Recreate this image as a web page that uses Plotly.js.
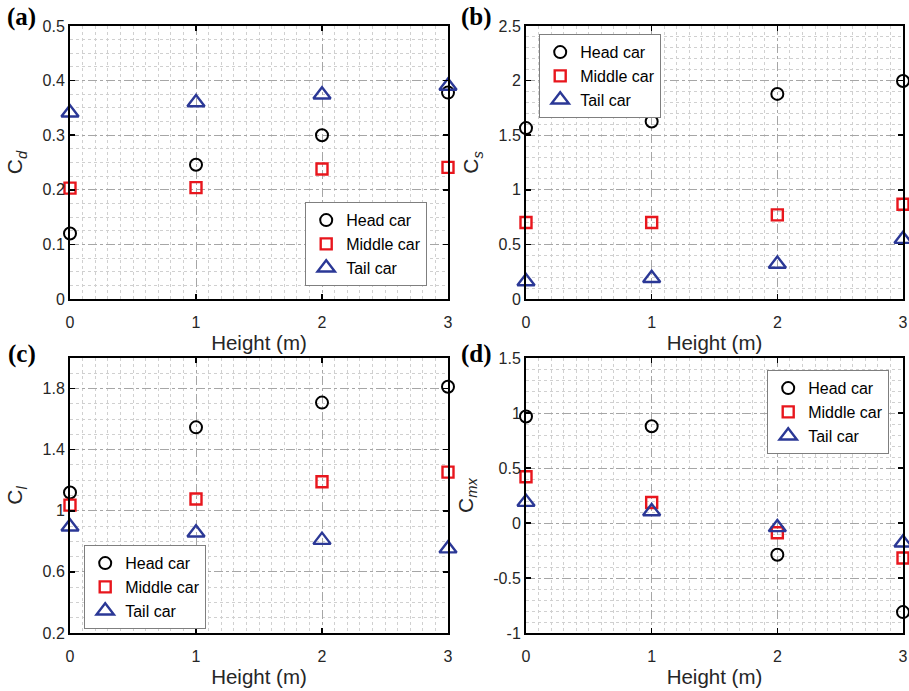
<!DOCTYPE html>
<html>
<head>
<meta charset="utf-8">
<script src="https://cdn.plot.ly/plotly-3.0.1.min.js"></script>
<style>html,body{margin:0;padding:0;background:#fff;}#chart{width:909px;height:691px;}</style>
</head>
<body>
<div id="chart"></div>
<script>
// ---- Data ----
const heights = [0, 1, 2, 3];
const seriesNames = ['Head car', 'Middle car', 'Tail car'];

// (a) drag coefficient Cd
const cdHead   = [0.120, 0.246, 0.300, 0.378];
const cdMiddle = [0.203, 0.204, 0.238, 0.241];
const cdTail   = [0.341, 0.360, 0.374, 0.390];

// (b) side force coefficient Cs
const csHead   = [1.565, 1.625, 1.878, 1.997];
const csMiddle = [0.700, 0.700, 0.770, 0.868];
const csTail   = [0.160, 0.190, 0.320, 0.548];

// (c) lift coefficient Cl
const clHead   = [1.120, 1.546, 1.708, 1.812];
const clMiddle = [1.037, 1.077, 1.190, 1.253];
const clTail   = [0.895, 0.856, 0.808, 0.752];

// (d) rolling moment coefficient Cmx
const cmxHead   = [0.968, 0.880, -0.289, -0.810];
const cmxMiddle = [0.420, 0.187, -0.089, -0.318];
const cmxTail   = [0.190, 0.105, -0.040, -0.180];

// tick labels
const xTickVals = [0, 1, 2, 3];
const xTickText = ['0', '1', '2', '3'];
const aTickVals = [0, 0.1, 0.2, 0.3, 0.4, 0.5];
const aTickText = ['0', '0.1', '0.2', '0.3', '0.4', '0.5'];
const bTickVals = [0, 0.5, 1, 1.5, 2, 2.5];
const bTickText = ['0', '0.5', '1', '1.5', '2', '2.5'];
const cTickVals = [0.2, 0.6, 1, 1.4, 1.8];
const cTickText = ['0.2', '0.6', '1', '1.4', '1.8'];
const dTickVals = [-1, -0.5, 0, 0.5, 1, 1.5];
const dTickText = ['-1', '-0.5', '0', '0.5', '1', '1.5'];

const panelLabels = ['(a)', '(b)', '(c)', '(d)'];
const yTitles = ['C<sub><i>d</i></sub>', 'C<sub><i>s</i></sub>', 'C<sub><i>l</i></sub>', 'C<sub><i>mx</i></sub>'];
const xTitle = 'Height (m)';

// ---- Styles ----
const colHead = '#000000', colMid = '#e8161d', colTail = '#2b3896';
const styles = [
  {symbol: 'circle-open', color: colHead, size: 12, lw: 2},
  {symbol: 'square-open', color: colMid, size: 11, lw: 2.4},
  {symbol: 'triangle-up-open', color: colTail, size: 15, lw: 2.4}
];

const panels = [
  {vals: [cdHead, cdMiddle, cdTail], xa: 'x', ya: 'y', legend: 'legend'},
  {vals: [csHead, csMiddle, csTail], xa: 'x2', ya: 'y2', legend: 'legend2'},
  {vals: [clHead, clMiddle, clTail], xa: 'x3', ya: 'y3', legend: 'legend3'},
  {vals: [cmxHead, cmxMiddle, cmxTail], xa: 'x4', ya: 'y4', legend: 'legend4'}
];

const traces = [];
panels.forEach(p => {
  p.vals.forEach((v, i) => {
    traces.push({
      type: 'scatter', mode: 'markers',
      x: heights, y: v, name: seriesNames[i],
      xaxis: p.xa, yaxis: p.ya, legend: p.legend,
      cliponaxis: false,
      marker: {symbol: styles[i].symbol, size: styles[i].size, color: styles[i].color,
               line: {color: styles[i].color, width: styles[i].lw}},
      hoverinfo: 'x+y'
    });
  });
});

const W = 909, H = 691;
function dx(a, b) { return [a / W, b / W]; }
function dy(top, bot) { return [1 - bot / H, 1 - top / H]; }

const font = 'Liberation Sans, Arial, sans-serif';
const majorGrid = '#a6a6a6', minorGrid = '#d0d0d0';
function xaxis(domain, anchor) {
  return {
    domain: domain, anchor: anchor, range: [0, 3],
    tickmode: 'array', tickvals: xTickVals, ticktext: xTickText,
    ticks: 'inside', ticklen: 5, tickwidth: 1.5, tickcolor: '#000',
    showline: true, linecolor: '#000', linewidth: 2, mirror: 'ticks',
    showgrid: true, gridcolor: majorGrid, gridwidth: 1, griddash: 'dashdot',
    minor: {dtick: 0.1, tick0: 0, showgrid: true, gridcolor: minorGrid, gridwidth: 1, griddash: 'dot', ticks: ''},
    zeroline: false, automargin: false,
    ticklabelstandoff: 8,
    tickfont: {family: font, size: 16, color: '#262626'},
    title: {text: xTitle, font: {family: font, size: 20.5, color: '#262626'}, standoff: 5},
    fixedrange: true
  };
}
function yaxis(domain, anchor, range, tv, tt, minorStep, title) {
  return {
    domain: domain, anchor: anchor, range: range,
    tickmode: 'array', tickvals: tv, ticktext: tt,
    ticks: 'inside', ticklen: 5, tickwidth: 1.5, tickcolor: '#000',
    showline: true, linecolor: '#000', linewidth: 2, mirror: 'ticks',
    showgrid: true, gridcolor: majorGrid, gridwidth: 1, griddash: 'dashdot',
    minor: {dtick: minorStep, tick0: range[0], showgrid: true, gridcolor: minorGrid, gridwidth: 1, griddash: 'dot', ticks: ''},
    zeroline: false, automargin: false,
    tickfont: {family: font, size: 16, color: '#262626'},
    title: {text: title, font: {family: font, size: 21, color: '#262626'}, standoff: 14},
    fixedrange: true
  };
}

const legBase = {
  bgcolor: '#ffffff', bordercolor: '#7f7f7f', borderwidth: 1.2,
  font: {family: font, size: 16, color: '#000'},
  xanchor: 'left', yanchor: 'top', tracegroupgap: 0,
  itemclick: false, itemdoubleclick: false
};

const colL = dx(70, 448), colR = dx(526, 903);
const rowT = dy(26, 299), rowB = dy(358, 633);

const layout = {
  width: W, height: H,
  margin: {l: 0, r: 0, t: 0, b: 0},
  paper_bgcolor: '#ffffff', plot_bgcolor: '#ffffff',
  showlegend: true,
  xaxis: xaxis(colL, 'y'),
  yaxis: yaxis(rowT, 'x', [0, 0.5], aTickVals, aTickText, 0.025, yTitles[0]),
  xaxis2: xaxis(colR, 'y2'),
  yaxis2: yaxis(rowT, 'x2', [0, 2.5], bTickVals, bTickText, 0.1, yTitles[1]),
  xaxis3: xaxis(colL, 'y3'),
  yaxis3: yaxis(rowB, 'x3', [0.2, 2.0], cTickVals, cTickText, 0.1, yTitles[2]),
  xaxis4: xaxis(colR, 'y4'),
  yaxis4: yaxis(rowB, 'x4', [-1, 1.5], dTickVals, dTickText, 0.1, yTitles[3]),
  legend: Object.assign({}, legBase, {x: 305 / W, y: 1 - 202 / H}),
  legend2: Object.assign({}, legBase, {x: 539 / W, y: 1 - 34 / H}),
  legend3: Object.assign({}, legBase, {x: 84 / W, y: 1 - 545 / H}),
  legend4: Object.assign({}, legBase, {x: 767 / W, y: 1 - 370 / H}),
  annotations: [
    {text: '<b>' + panelLabels[0] + '</b>', x: 5 / W, y: 1 - 17 / H},
    {text: '<b>' + panelLabels[1] + '</b>', x: 459 / W, y: 1 - 17 / H},
    {text: '<b>' + panelLabels[2] + '</b>', x: 6 / W, y: 1 - 354 / H},
    {text: '<b>' + panelLabels[3] + '</b>', x: 459 / W, y: 1 - 354 / H}
  ].map(a => Object.assign(a, {
    xref: 'paper', yref: 'paper', xanchor: 'left', yanchor: 'middle', showarrow: false,
    font: {family: 'Liberation Serif, Times New Roman, serif', size: 25, color: '#000'}
  }))
};

Plotly.newPlot('chart', traces, layout, {displayModeBar: false, staticPlot: true});
</script>
</body>
</html>
